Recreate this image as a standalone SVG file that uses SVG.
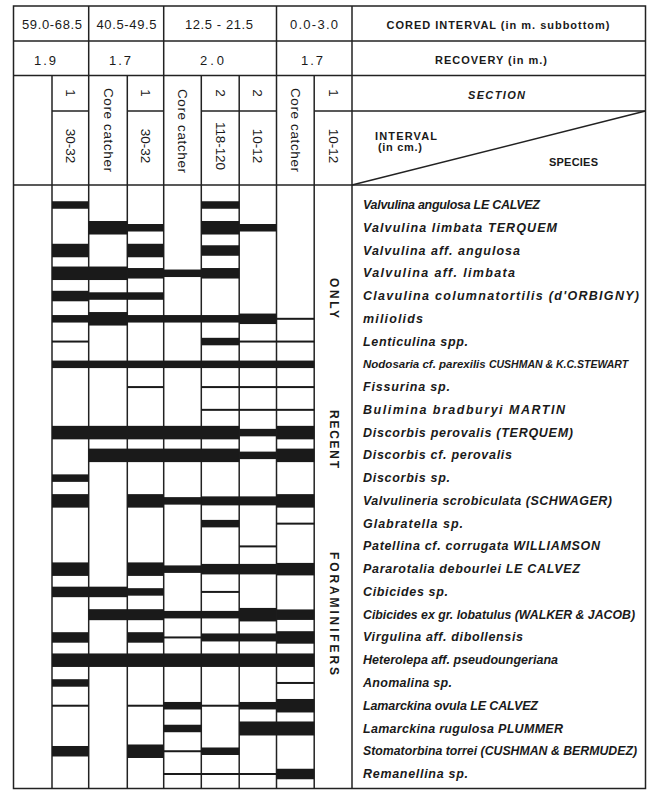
<svg xmlns="http://www.w3.org/2000/svg" width="648" height="790" viewBox="0 0 648 790">
<style>
.g{stroke:#222;stroke-width:1.5;fill:none}
.h{font-family:"Liberation Sans",Arial,sans-serif;font-size:13px;fill:#1a1a1a}
.hb{font-family:"Liberation Sans",Arial,sans-serif;font-size:11px;font-weight:bold;fill:#1a1a1a}
.v{font-family:"Liberation Sans",Arial,sans-serif;font-size:13.5px;fill:#1a1a1a;text-anchor:middle;dominant-baseline:central}
.vt{font-family:"Liberation Sans",Arial,sans-serif;font-size:12px;font-weight:bold;fill:#1a1a1a;text-anchor:middle;dominant-baseline:central}
.sp{font-family:"Liberation Sans",Arial,sans-serif;font-size:12.5px;font-style:italic;font-weight:bold;fill:#1a1a1a}
.bars rect{fill:#1a1a1a}
</style>
<rect width="648" height="790" fill="#fff"/>
<g id="grid" class="g">
<rect x="13.5" y="6" width="632" height="782.5"/>
<line x1="13.5" y1="41" x2="645.5" y2="41"/>
<line x1="13.5" y1="75.5" x2="645.5" y2="75.5"/>
<line x1="352" y1="111" x2="645.5" y2="111"/>
<line x1="13.5" y1="185" x2="645.5" y2="185"/>
<line x1="52" y1="111" x2="88.7" y2="111"/>
<line x1="127.3" y1="111" x2="163.7" y2="111"/>
<line x1="201.3" y1="111" x2="276.5" y2="111"/>
<line x1="314.2" y1="111" x2="352" y2="111"/>
<line x1="88.7" y1="6" x2="88.7" y2="788.5"/>
<line x1="163.7" y1="6" x2="163.7" y2="788.5"/>
<line x1="276.5" y1="6" x2="276.5" y2="788.5"/>
<line x1="352" y1="6" x2="352" y2="788.5"/>
<line x1="52" y1="75.5" x2="52" y2="788.5"/>
<line x1="127.3" y1="75.5" x2="127.3" y2="788.5"/>
<line x1="201.3" y1="75.5" x2="201.3" y2="788.5"/>
<line x1="239.2" y1="75.5" x2="239.2" y2="788.5"/>
<line x1="314.2" y1="75.5" x2="314.2" y2="788.5"/>
<line x1="352" y1="185" x2="645.5" y2="111"/>
</g>
<g id="header-left">
<text class="h" x="52" y="29.3" text-anchor="middle" textLength="60">59.0-68.5</text>
<text class="h" x="126.5" y="29.3" text-anchor="middle" textLength="60">40.5-49.5</text>
<text class="h" x="219" y="29.3" text-anchor="middle" textLength="68">12.5 - 21.5</text>
<text class="h" x="314" y="29.3" text-anchor="middle" textLength="48">0.0-3.0</text>
<text class="h" x="46" y="64.5" text-anchor="middle" letter-spacing="2">1.9</text>
<text class="h" x="121" y="64.5" text-anchor="middle" letter-spacing="2">1.7</text>
<text class="h" x="213.5" y="64.5" text-anchor="middle" letter-spacing="3">2.0</text>
<text class="h" x="313" y="64.5" text-anchor="middle" letter-spacing="2">1.7</text>
<text class="v" transform="translate(70.3,93) rotate(90)">1</text>
<text class="v" transform="translate(70.3,146) rotate(90)">30-32</text>
<text class="v" transform="translate(108,130) rotate(90)" textLength="84">Core catcher</text>
<text class="v" transform="translate(145.5,93) rotate(90)">1</text>
<text class="v" transform="translate(145.5,146) rotate(90)">30-32</text>
<text class="v" transform="translate(182.5,131) rotate(90)" textLength="84">Core catcher</text>
<text class="v" transform="translate(220.3,93) rotate(90)">2</text>
<text class="v" transform="translate(220.3,146) rotate(90)" textLength="48">118-120</text>
<text class="v" transform="translate(257.8,93) rotate(90)">2</text>
<text class="v" transform="translate(257.8,146) rotate(90)">10-12</text>
<text class="v" transform="translate(295.4,130) rotate(90)" textLength="84">Core catcher</text>
<text class="v" transform="translate(333,93) rotate(90)">1</text>
<text class="v" transform="translate(333,146) rotate(90)">10-12</text>
</g>
<g id="header-right">
<text class="hb" x="498" y="29.3" text-anchor="middle" textLength="223">CORED INTERVAL (in m. subbottom)</text>
<text class="hb" x="491" y="64.3" text-anchor="middle" textLength="112">RECOVERY (in m.)</text>
<text class="hb" x="496.5" y="99.3" text-anchor="middle" font-style="italic" textLength="57">SECTION</text>
<text class="hb" x="375" y="140" textLength="62">INTERVAL</text>
<text class="hb" x="378" y="150.5" font-size="10" textLength="44">(in cm.)</text>
<text class="hb" x="549" y="165.5" textLength="49">SPECIES</text>
</g>
<g id="bars" class="bars">
<rect x="52" y="201.25" width="36.7" height="7.5"/>
<rect x="201.3" y="201.25" width="37.9" height="7.5"/>
<rect x="88.7" y="221.01" width="38.6" height="13.5"/>
<rect x="127.3" y="224.01" width="36.4" height="7.5"/>
<rect x="201.3" y="221.01" width="37.9" height="13.5"/>
<rect x="239.2" y="224.01" width="37.3" height="7.5"/>
<rect x="52" y="243.77" width="36.7" height="13.5"/>
<rect x="127.3" y="243.77" width="36.4" height="13.5"/>
<rect x="201.3" y="245.27" width="37.9" height="10.5"/>
<rect x="52" y="266.53" width="75.3" height="13.5"/>
<rect x="127.3" y="268.03" width="36.4" height="10.5"/>
<rect x="163.7" y="269.53" width="37.6" height="7.5"/>
<rect x="201.3" y="268.03" width="37.9" height="10.5"/>
<rect x="52" y="290.79" width="36.7" height="10.5"/>
<rect x="88.7" y="292.29" width="75" height="7.5"/>
<rect x="52" y="315.05" width="36.7" height="7.5"/>
<rect x="88.7" y="312.05" width="38.6" height="13.5"/>
<rect x="127.3" y="315.05" width="112" height="7.5"/>
<rect x="239.2" y="313.55" width="37.3" height="10.5"/>
<rect x="276.5" y="317.8" width="37.7" height="2"/>
<rect x="52" y="340.56" width="36.7" height="2"/>
<rect x="201.3" y="337.81" width="37.9" height="7.5"/>
<rect x="239.2" y="340.56" width="75" height="2"/>
<rect x="52" y="360.57" width="262.2" height="7.5"/>
<rect x="127.3" y="386.08" width="36.4" height="2"/>
<rect x="201.3" y="386.08" width="112.9" height="2"/>
<rect x="201.3" y="408.84" width="112.9" height="2"/>
<rect x="52" y="425.85" width="187.2" height="13.5"/>
<rect x="239.2" y="428.85" width="37.3" height="7.5"/>
<rect x="276.5" y="425.85" width="37.7" height="13.5"/>
<rect x="88.7" y="448.61" width="150.5" height="13.5"/>
<rect x="239.2" y="451.61" width="37.3" height="7.5"/>
<rect x="276.5" y="448.61" width="37.7" height="13.5"/>
<rect x="52" y="474.37" width="36.7" height="7.5"/>
<rect x="52" y="494.13" width="36.7" height="13.5"/>
<rect x="127.3" y="494.13" width="36.4" height="13.5"/>
<rect x="163.7" y="497.13" width="112.8" height="7.5"/>
<rect x="201.3" y="496.38" width="75.2" height="9"/>
<rect x="276.5" y="494.13" width="37.7" height="13.5"/>
<rect x="201.3" y="519.89" width="37.9" height="7.5"/>
<rect x="276.5" y="522.64" width="37.7" height="2"/>
<rect x="239.2" y="545.4" width="37.3" height="2"/>
<rect x="52" y="562.41" width="36.7" height="13.5"/>
<rect x="127.3" y="562.41" width="36.4" height="13.5"/>
<rect x="163.7" y="565.41" width="37.6" height="7.5"/>
<rect x="201.3" y="563.91" width="75.2" height="10.5"/>
<rect x="276.5" y="562.91" width="37.7" height="12.5"/>
<rect x="52" y="586.67" width="75.3" height="10.5"/>
<rect x="127.3" y="588.17" width="36.4" height="7.5"/>
<rect x="201.3" y="590.92" width="37.9" height="2"/>
<rect x="88.7" y="609.18" width="75" height="11"/>
<rect x="163.7" y="610.93" width="75.5" height="7.5"/>
<rect x="239.2" y="607.93" width="37.3" height="13.5"/>
<rect x="276.5" y="609.43" width="37.7" height="10.5"/>
<rect x="52" y="632.19" width="36.7" height="10.5"/>
<rect x="127.3" y="632.19" width="36.4" height="10.5"/>
<rect x="163.7" y="636.44" width="37.6" height="2"/>
<rect x="201.3" y="633.44" width="75.2" height="8"/>
<rect x="276.5" y="631.19" width="37.7" height="12.5"/>
<rect x="52" y="653.45" width="262.2" height="13.5"/>
<rect x="52" y="679.21" width="36.7" height="7.5"/>
<rect x="276.5" y="681.96" width="37.7" height="2"/>
<rect x="52" y="704.72" width="36.7" height="2"/>
<rect x="127.3" y="704.72" width="36.4" height="2"/>
<rect x="163.7" y="701.97" width="37.6" height="7.5"/>
<rect x="201.3" y="704.72" width="37.9" height="2"/>
<rect x="239.2" y="701.97" width="37.3" height="7.5"/>
<rect x="276.5" y="698.97" width="37.7" height="13.5"/>
<rect x="163.7" y="724.73" width="37.6" height="7.5"/>
<rect x="239.2" y="721.48" width="75" height="14"/>
<rect x="52" y="745.99" width="36.7" height="10.5"/>
<rect x="127.3" y="744.49" width="36.4" height="13.5"/>
<rect x="163.7" y="750.24" width="37.6" height="2"/>
<rect x="201.3" y="747.49" width="37.9" height="7.5"/>
<rect x="163.7" y="773" width="112.8" height="2"/>
<rect x="276.5" y="768.75" width="37.7" height="10.5"/>
</g>
<g id="vertical-note">
<text class="vt" transform="translate(333.5,298) rotate(90)" textLength="40">ONLY</text>
<text class="vt" transform="translate(333.5,439) rotate(90)" textLength="58">RECENT</text>
<text class="vt" transform="translate(333.5,613.5) rotate(90)" textLength="123">FORAMINIFERS</text>
</g>
<g id="species">
<text class="sp" x="363" y="209" textLength="177">Valvulina angulosa LE CALVEZ</text>
<text class="sp" x="363" y="231.8" textLength="194">Valvulina limbata TERQUEM</text>
<text class="sp" x="363" y="254.5" textLength="157">Valvulina aff. angulosa</text>
<text class="sp" x="363" y="277.3" textLength="152">Valvulina aff. limbata</text>
<text class="sp" x="363" y="300" textLength="276">Clavulina columnatortilis (d'ORBIGNY)</text>
<text class="sp" x="363" y="322.8" textLength="60">miliolids</text>
<text class="sp" x="363" y="345.6" textLength="105">Lenticulina spp.</text>
<text class="sp" x="363" y="368.3" style="font-size:11.5px">Nodosaria cf. parexilis <tspan style="font-size:10.5px">CUSHMAN &amp; K.C.STEWART</tspan></text>
<text class="sp" x="363" y="391.1" textLength="87">Fissurina sp.</text>
<text class="sp" x="363" y="413.8" textLength="202">Bulimina bradburyi MARTIN</text>
<text class="sp" x="363" y="436.6" textLength="210">Discorbis perovalis (TERQUEM)</text>
<text class="sp" x="363" y="459.4" textLength="149">Discorbis cf. perovalis</text>
<text class="sp" x="363" y="482.1" textLength="87">Discorbis sp.</text>
<text class="sp" x="363" y="504.9" textLength="249">Valvulineria scrobiculata (SCHWAGER)</text>
<text class="sp" x="363" y="527.6" textLength="100">Glabratella sp.</text>
<text class="sp" x="363" y="550.4" textLength="237">Patellina cf. corrugata WILLIAMSON</text>
<text class="sp" x="363" y="573.2" textLength="217">Pararotalia debourlei LE CALVEZ</text>
<text class="sp" x="363" y="595.9" textLength="85">Cibicides sp.</text>
<text class="sp" x="363" y="618.7" textLength="272" lengthAdjust="spacingAndGlyphs">Cibicides ex gr. lobatulus (WALKER &amp; JACOB)</text>
<text class="sp" x="363" y="641.4" textLength="160">Virgulina aff. dibollensis</text>
<text class="sp" x="363" y="664.2" textLength="195">Heterolepa aff. pseudoungeriana</text>
<text class="sp" x="363" y="687" textLength="89">Anomalina sp.</text>
<text class="sp" x="363" y="709.7" textLength="175">Lamarckina ovula LE CALVEZ</text>
<text class="sp" x="363" y="732.5" textLength="200">Lamarckina rugulosa PLUMMER</text>
<text class="sp" x="363" y="755.2" textLength="274" lengthAdjust="spacingAndGlyphs">Stomatorbina torrei (CUSHMAN &amp; BERMUDEZ)</text>
<text class="sp" x="363" y="778" textLength="105">Remanellina sp.</text>
</g>
</svg>
